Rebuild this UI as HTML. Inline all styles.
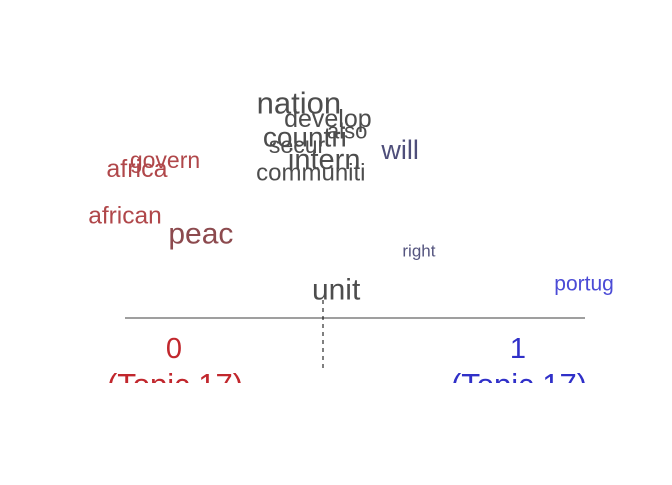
<!DOCTYPE html>
<html><head><meta charset="utf-8"><style>
html,body{margin:0;padding:0;background:#fff;}
svg text{font-family:"Liberation Sans",Arial,sans-serif;}
</style></head><body>
<svg id="chart" width="672" height="480" viewBox="0 0 672 480" xmlns="http://www.w3.org/2000/svg">
<defs><clipPath id="clip"><rect x="0" y="0" width="672" height="383"/></clipPath></defs>
<line x1="125" y1="318" x2="585" y2="318" stroke="#666" stroke-width="1.3"/>
<line x1="323" y1="300" x2="323" y2="370" stroke="#000" stroke-width="1" stroke-dasharray="4,4"/>
<g clip-path="url(#clip)">
<text x="174" y="358" font-size="29" fill="#c1272d" text-anchor="middle">0</text>
<text x="518" y="358" font-size="29" fill="#3030c8" text-anchor="middle">1</text>
<text x="175" y="395" font-size="31" fill="#c1272d" text-anchor="middle">(Topic 17)</text>
<text x="519" y="395" font-size="31" fill="#3030c8" text-anchor="middle">(Topic 17)</text>
</g>
<g id="words"></g>
</svg>
<script>
const words = ["nation","develop","also","countri","secur","intern","communiti","will","govern","africa","african","peac","right","portug","unit"];
const xVals = [37.8,44.1,48.3,39.1,37.4,43.3,40.4,59.8,8.7,2.6,0,16.5,63.9,99.8,45.9];
const yVals = [92.3,87,83,81,78.3,73.3,69,76.7,73.3,70.3,54.7,48.7,43,32,30];
const sizes = [31,25,22,28,23,29,24,27,23,25,24.5,30,17,21,30];
const colors = ["#4d4d4d","#4d4d4d","#4d4d4d","#4d4d4d","#4d4d4d","#4d4d4d","#4d4d4d","#4e4e7a","#b0474a","#b0474a","#b0474a","#8c4a4e","#55557f","#4b4bd6","#4d4d4d"];
const xs = d => 125 + d * 4.6;
const ys = d => 380 - d * 3;
const g = document.getElementById('words');
words.forEach((w, i) => {
  const t = document.createElementNS('http://www.w3.org/2000/svg', 'text');
  t.setAttribute('x', xs(xVals[i]));
  t.setAttribute('y', ys(yVals[i]));
  t.setAttribute('font-size', sizes[i]);
  t.setAttribute('fill', colors[i]);
  t.setAttribute('text-anchor', 'middle');
  t.setAttribute('dominant-baseline', 'central');
  
  
  t.textContent = w;
  g.appendChild(t);
});
</script>
</body></html>
